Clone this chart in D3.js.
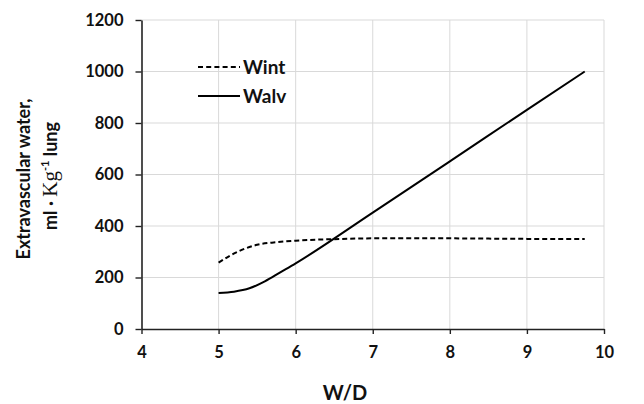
<!DOCTYPE html>
<html><head><meta charset="utf-8">
<script src="https://cdn.jsdelivr.net/npm/d3@7"></script>
<style>body{margin:0;background:#fff}text{font-family:Lato,"Open Sans",sans-serif}</style>
</head><body><svg id="c" width="644" height="404"></svg>
<script>
const wintX = [5, 5.15, 5.3, 5.5, 5.75, 6, 6.5, 7, 8, 9, 9.75];
const wintY = [258, 285, 307, 327, 337, 343, 349, 352, 352, 350, 350];
const walvX = [5, 5.2, 5.4, 5.6, 5.8, 6, 7, 8, 9, 9.75];
const walvY = [140, 145, 158, 185, 220, 255, 452, 651, 851, 1000];
const xTicks = [4, 5, 6, 7, 8, 9, 10];
const yTicks = [0, 200, 400, 600, 800, 1000, 1200];
const seriesNames = ["Wint", "Walv"];

const svg = d3.select("#c");
const x = d3.scaleLinear().domain([4, 10]).range([141.5, 604]);
const y = d3.scaleLinear().domain([0, 1200]).range([329, 20]);

// gridlines
svg.append("g").selectAll("line.h").data(yTicks.slice(1)).join("line")
  .attr("x1", x(4)).attr("x2", x(10)).attr("y1", d => y(d)).attr("y2", d => y(d))
  .attr("stroke", "#d9d9d9").attr("stroke-width", 1);
svg.append("g").selectAll("line.v").data(xTicks.slice(1)).join("line")
  .attr("x1", d => x(d)).attr("x2", d => x(d)).attr("y1", y(0)).attr("y2", y(1200))
  .attr("stroke", "#d9d9d9").attr("stroke-width", 1);

// axes
const xa = svg.append("g").attr("transform", `translate(0,${y(0)})`)
  .call(d3.axisBottom(x).tickValues(xTicks).tickFormat(d3.format("d")).tickSizeInner(5).tickSizeOuter(0).tickPadding(12));
const ya = svg.append("g").attr("transform", `translate(${x(4)},0)`)
  .call(d3.axisLeft(y).tickValues(yTicks).tickFormat(d3.format("d")).tickSizeInner(6).tickSizeOuter(0).tickPadding(12));
[xa, ya].forEach(a => {
  a.select(".domain").attr("stroke", "#222").attr("stroke-width", 1.6);
  a.selectAll(".tick line").attr("stroke", "#222").attr("stroke-width", 1.4);
  a.selectAll(".tick text").attr("fill", "#111").attr("font-size", 16.5).attr("font-weight", "bold")
    .attr("font-family", "Lato, sans-serif");
});
xa.selectAll(".tick text").attr("dy", "0.71em");

// lines
const line = d3.line().x(d => x(d[0])).y(d => y(d[1])).curve(d3.curveMonotoneX);
const wint = wintX.map((v, i) => [v, wintY[i]]);
const walv = walvX.map((v, i) => [v, walvY[i]]);
svg.append("path").datum(wint).attr("d", line).attr("fill", "none")
  .attr("stroke", "#000").attr("stroke-width", 2).attr("stroke-dasharray", "5,3");
svg.append("path").datum(walv).attr("d", line).attr("fill", "none")
  .attr("stroke", "#000").attr("stroke-width", 2);

// legend
const leg = svg.append("g");
[0, 1].forEach(i => {
  const yy = 67 + i * 29;
  leg.append("line").attr("x1", 198).attr("x2", 240).attr("y1", yy).attr("y2", yy)
    .attr("stroke", "#000").attr("stroke-width", 2)
    .attr("stroke-dasharray", i === 0 ? "5,3.2" : null);
  leg.append("text").attr("x", 243).attr("y", yy + 7).text(seriesNames[i])
    .attr("font-size", 19).attr("font-weight", "bold").attr("fill", "#111");
});

// axis titles
svg.append("text").attr("x", 345).attr("y", 400).attr("text-anchor", "middle")
  .attr("font-size", 20).attr("font-weight", "bold").attr("fill", "#111").text("W/D");

svg.append("text").attr("transform", "translate(30,179) rotate(-90)")
  .attr("text-anchor", "middle").attr("font-size", 18).attr("font-weight", "bold").attr("fill", "#111")
  .text("Extravascular water,");
const t2 = svg.append("text").attr("transform", "translate(57,176) rotate(-90)")
  .attr("text-anchor", "middle").attr("font-size", 18).attr("font-weight", "bold").attr("fill", "#111");
t2.append("tspan").text("ml · ");
t2.append("tspan").attr("font-family", "Liberation Serif, serif").attr("font-weight", "normal").attr("font-size", 21).text("Kg");
t2.append("tspan").attr("font-size", 11).attr("dy", -8).text("-1");
t2.append("tspan").attr("dy", 8).text(" lung");
</script></body></html>
